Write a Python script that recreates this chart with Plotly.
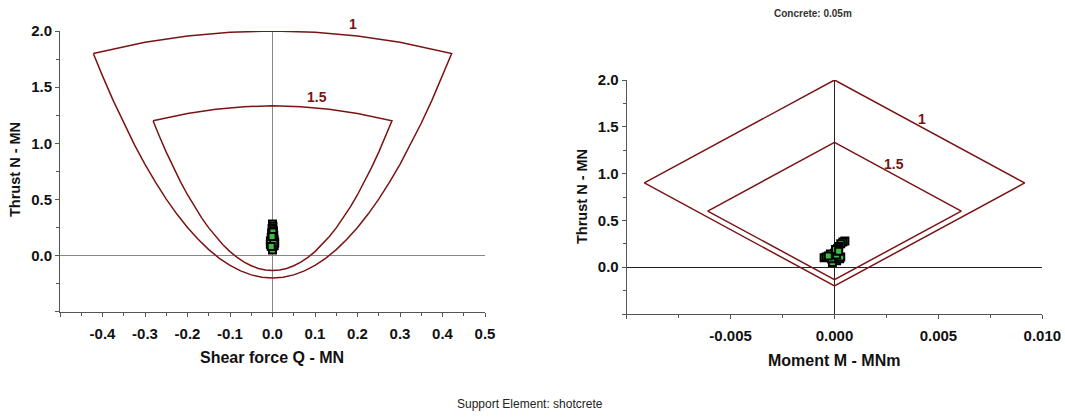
import plotly.graph_objects as go

# ---- data ----
# Shear force envelope (factor of safety 1): top arc, then right flank down, bottom, left flank up
q_env1 = [-0.4216, -0.30, -0.20, -0.10, 0.0, 0.10, 0.20, 0.30, 0.4216,
          0.400, 0.375, 0.350, 0.325, 0.300, 0.275, 0.250, 0.225, 0.200, 0.175,
          0.150, 0.125, 0.100, 0.075, 0.050, 0.025, 0.0,
          -0.025, -0.050, -0.075, -0.100, -0.125, -0.150, -0.175, -0.200, -0.225,
          -0.250, -0.275, -0.300, -0.325, -0.350, -0.375, -0.400, -0.4216]
n_env1 = [1.80, 1.899, 1.955, 1.989, 2.00, 1.989, 1.955, 1.899, 1.80,
          1.600, 1.382, 1.178, 0.988, 0.8125, 0.651, 0.503, 0.3695, 0.250, 0.1445,
          0.053, -0.0242, -0.0875, -0.1367, -0.172, -0.193, -0.200,
          -0.193, -0.172, -0.1367, -0.0875, -0.0242, 0.053, 0.1445, 0.250, 0.3695,
          0.503, 0.651, 0.8125, 0.988, 1.178, 1.382, 1.600, 1.80]
# Shear force envelope (factor of safety 1.5)
q_env15 = [-0.2811, -0.20, -0.1333, -0.0667, 0.0, 0.0667, 0.1333, 0.20, 0.2811,
           0.2667, 0.2500, 0.2333, 0.2167, 0.2000, 0.1833, 0.1667, 0.1500, 0.1333, 0.1167,
           0.1000, 0.0833, 0.0667, 0.0500, 0.0333, 0.0167, 0.0,
           -0.0167, -0.0333, -0.0500, -0.0667, -0.0833, -0.1000, -0.1167, -0.1333, -0.1500,
           -0.1667, -0.1833, -0.2000, -0.2167, -0.2333, -0.2500, -0.2667, -0.2811]
n_env15 = [1.20, 1.266, 1.303, 1.326, 1.3333, 1.326, 1.303, 1.266, 1.20,
           1.0667, 0.9213, 0.7853, 0.6587, 0.5417, 0.4340, 0.3353, 0.2463, 0.1667, 0.0963,
           0.0353, -0.0161, -0.0583, -0.0911, -0.1147, -0.1287, -0.1333,
           -0.1287, -0.1147, -0.0911, -0.0583, -0.0161, 0.0353, 0.0963, 0.1667, 0.2463,
           0.3353, 0.4340, 0.5417, 0.6587, 0.7853, 0.9213, 1.0667, 1.20]

# Moment envelopes
m_env1 = [0.0, 0.00915, 0.0, -0.00915, 0.0]
nm_env1 = [2.0, 0.9, -0.2, 0.9, 2.0]
m_env15 = [0.0, 0.0061, 0.0, -0.0061, 0.0]
nm_env15 = [1.3333, 0.6, -0.1333, 0.6, 1.3333]

# Support element results
q_pts = [0.000, 0.001, -0.001, 0.002, -0.002, 0.003, -0.003, 0.004, -0.004, 0.002,
         -0.002, 0.001, 0.000, -0.001, 0.000, 0.001, -0.005, 0.005, 0.000, 0.000,
         0.004, -0.004, 0.005, -0.005, 0.003, -0.003, 0.001, -0.001]
nq_pts = [0.28, 0.26, 0.24, 0.22, 0.20, 0.18, 0.16, 0.14, 0.12, 0.10,
          0.09, 0.08, 0.06, 0.11, 0.13, 0.15, 0.10, 0.11, 0.05, 0.19,
          0.09, 0.10, 0.12, 0.13, 0.11, 0.08, 0.21, 0.17]
m_pts = [0.00050, 0.00040, 0.00030, 0.00020, 0.00015, 0.00010, 0.00005, 0.0, -0.00005, -0.0001,
         -0.0002, -0.0005, -0.0004, 0.0, 0.0001, 0.00025, -0.0001, 0.0002, 0.0, -0.00015,
         0.0003, 0.0001, -0.0003, 0.00005, 0.0002]
nm_pts = [0.28, 0.27, 0.25, 0.22, 0.20, 0.18, 0.16, 0.15, 0.13, 0.12,
          0.14, 0.10, 0.11, 0.08, 0.07, 0.09, 0.05, 0.12, 0.10, 0.09,
          0.11, 0.13, 0.12, 0.19, 0.17]

x1_ticks = [-0.5, -0.4, -0.3, -0.2, -0.1, 0.0, 0.1, 0.2, 0.3, 0.4, 0.5]
x1_text = ["", "-0.4", "-0.3", "-0.2", "-0.1", "0.0", "0.1", "0.2", "0.3", "0.4", "0.5"]
y_ticks = [-0.5, 0.0, 0.5, 1.0, 1.5, 2.0]
y_text = ["", "0.0", "0.5", "1.0", "1.5", "2.0"]
x2_ticks = [-0.01, -0.005, 0.0, 0.005, 0.01]
x2_text = ["", "-0.005", "0.000", "0.005", "0.010"]

ENV = "#7a1414"
FONT = "Arial, Liberation Sans, sans-serif"
W, H = 1065, 420

fig = go.Figure()
line = dict(color=ENV, width=1.5)
fig.add_trace(go.Scatter(x=q_env1, y=n_env1, mode="lines", line=line, xaxis="x", yaxis="y"))
fig.add_trace(go.Scatter(x=q_env15, y=n_env15, mode="lines", line=line, xaxis="x", yaxis="y"))
fig.add_trace(go.Scatter(x=m_env1, y=nm_env1, mode="lines", line=line, xaxis="x2", yaxis="y2"))
fig.add_trace(go.Scatter(x=m_env15, y=nm_env15, mode="lines", line=line, xaxis="x2", yaxis="y2"))
mk = dict(symbol="square", size=7, color="#3cbf3c", line=dict(color="black", width=2))
fig.add_trace(go.Scatter(x=q_pts, y=nq_pts, mode="markers", marker=mk, xaxis="x", yaxis="y"))
fig.add_trace(go.Scatter(x=m_pts, y=nm_pts, mode="markers", marker=mk, xaxis="x2", yaxis="y2"))

tickfont = dict(family=FONT, size=15, color="#111", weight="bold")
common = dict(showgrid=False, showline=True, linecolor="#555", linewidth=1,
              ticks="outside", ticklen=4, tickcolor="#555", tickfont=tickfont,
              zeroline=True, zerolinewidth=1.2, automargin=False)

fig.update_layout(
    template="none",
    width=W, height=H, autosize=False,
    margin=dict(l=0, r=0, t=0, b=0, autoexpand=False),
    paper_bgcolor="white", plot_bgcolor="white",
    showlegend=False,
    xaxis=dict(domain=[60 / W, 485 / W], range=[-0.5, 0.5], tickvals=x1_ticks, ticktext=x1_text,
               minor=dict(ticks="outside", dtick=0.05, ticklen=3, tickcolor="#555"),
               zerolinecolor="#888", anchor="y", ticklabelstandoff=4, **common),
    yaxis=dict(domain=[(H - 311.7) / H, (H - 31) / H], range=[-0.5, 2.0], tickvals=y_ticks, ticktext=y_text,
               minor=dict(ticks="outside", dtick=0.25, ticklen=3, tickcolor="#555"),
               zerolinecolor="#888", anchor="x", **common),
    xaxis2=dict(domain=[626.7 / W, 1042.3 / W], range=[-0.01, 0.01], tickvals=x2_ticks, ticktext=x2_text,
                minor=dict(ticks="outside", dtick=0.0025, ticklen=3, tickcolor="#555"),
                zerolinecolor="#222", anchor="y2", ticklabelstandoff=4, **common),
    yaxis2=dict(domain=[(H - 314) / H, (H - 80) / H], range=[-0.5, 2.0], tickvals=y_ticks, ticktext=y_text,
                minor=dict(ticks="outside", dtick=0.25, ticklen=3, tickcolor="#555"),
                zerolinecolor="#222", anchor="x2", **common),
)


def px(xp, yp):
    return xp / W, (H - yp) / H


lab = dict(family=FONT, size=14, color=ENV, weight="bold")
ttl_y = dict(family=FONT, size=14.5, color="#111", weight="bold")
ttl_x = dict(family=FONT, size=16, color="#111", weight="bold")
A = dict(showarrow=False, xanchor="center", yanchor="middle")
ann = [
    dict(x=px(353, 24)[0], y=px(353, 24)[1], xref="paper", yref="paper", text="1", font=lab, **A),
    dict(x=0.104, y=1.41, xref="x", yref="y", text="1.5", font=lab, **A),
    dict(x=0.0042, y=1.58, xref="x2", yref="y2", text="1", font=lab, **A),
    dict(x=0.00285, y=1.10, xref="x2", yref="y2", text="1.5", font=lab, **A),
    dict(x=px(15, 170)[0], y=px(15, 170)[1], xref="paper", yref="paper", text="Thrust N - MN",
         textangle=-90, font=ttl_y, **A),
    dict(x=px(582, 197)[0], y=px(582, 197)[1], xref="paper", yref="paper", text="Thrust N - MN",
         textangle=-90, font=ttl_y, **A),
    dict(x=px(271.5, 357)[0], y=px(271.5, 357)[1], xref="paper", yref="paper", text="Shear force Q - MN",
         font=ttl_x, **A),
    dict(x=px(834, 360)[0], y=px(834, 360)[1], xref="paper", yref="paper", text="Moment M - MNm",
         font=ttl_x, **A),
    dict(x=px(813, 13)[0], y=px(813, 13)[1], xref="paper", yref="paper", text="Concrete: 0.05m",
         font=dict(family=FONT, size=10, color="#333", weight="bold"), **A),
    dict(x=px(530, 404)[0], y=px(530, 404)[1], xref="paper", yref="paper", text="Support Element: shotcrete",
         font=dict(family=FONT, size=12, color="#222"), **A),
]
fig.update_layout(annotations=ann)

fig.write_html("out.html")
